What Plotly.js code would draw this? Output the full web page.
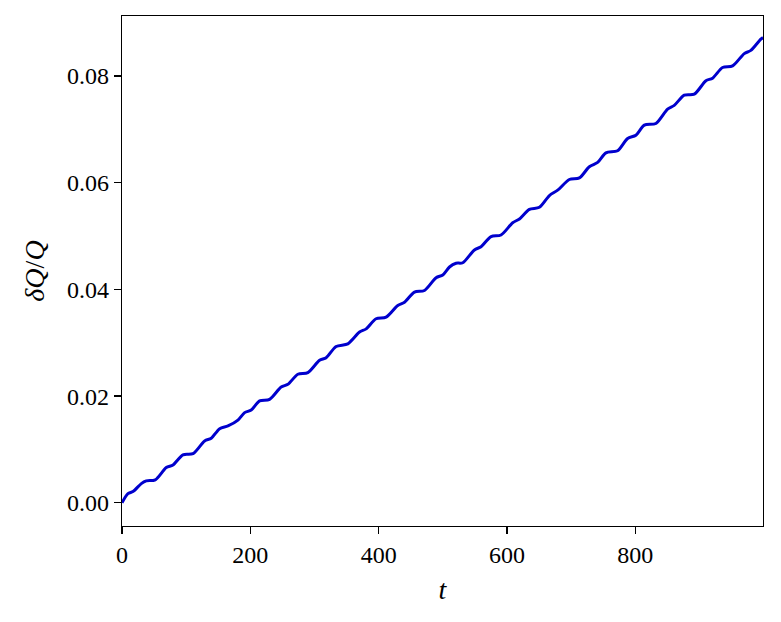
<!DOCTYPE html>
<html>
<head>
<meta charset="utf-8">
<script src="https://cdn.plot.ly/plotly-3.0.1.min.js"></script>
<style>html,body{margin:0;padding:0;background:#fff;}#chart{width:781px;height:622px;}</style>
</head>
<body>
<div id="chart"></div>
<script>
// values
const tValues = [0, 9.3, 17.1, 30.1, 37.8, 51.9, 69.0, 79.4, 95.0, 110.6, 128.8, 139.1, 152.2, 165.1,
  180.7, 191.1, 201.4, 214.5, 230.0, 248.1, 258.5, 274.1, 289.7, 307.9, 318.2, 333.7,
  352.0, 370.2, 380.5, 396.0, 411.6, 429.8, 440.3, 455.8, 471.4, 489.5, 499.9, 510.4,
  520.6, 531.1, 549.3, 559.6, 575.2, 590.7, 608.9, 619.4, 634.9, 650.5, 666.1, 679.0,
  697.2, 712.8, 728.4, 741.3, 754.2, 772.4, 788.0, 800.9, 814.0, 832.1, 850.3,
  860.7, 876.3, 891.9, 910.0, 920.4, 936.0, 951.6, 969.8, 980.1, 995.6, 999.0];
const dQoverQ = [0.0000, 0.0017, 0.0021, 0.0036, 0.0041, 0.0043, 0.0066, 0.0071, 0.0090, 0.0092, 0.0116, 0.0121, 0.0139, 0.0144,
  0.0155, 0.0169, 0.0174, 0.0191, 0.0194, 0.0217, 0.0222, 0.0241, 0.0244, 0.0267, 0.0272, 0.0293,
  0.0298, 0.0320, 0.0326, 0.0345, 0.0348, 0.0370, 0.0376, 0.0395, 0.0398, 0.0422, 0.0427, 0.0442,
  0.0449, 0.0450, 0.0474, 0.0480, 0.0499, 0.0502, 0.0525, 0.0532, 0.0550, 0.0554, 0.0576, 0.0586,
  0.0606, 0.0609, 0.0630, 0.0638, 0.0656, 0.0660, 0.0683, 0.0689, 0.0708, 0.0711, 0.0738,
  0.0745, 0.0764, 0.0766, 0.0791, 0.0796, 0.0816, 0.0819, 0.0842, 0.0848, 0.0869, 0.0872];
const xTicks = [0, 200, 400, 600, 800];
const yTicks = [0.00, 0.02, 0.04, 0.06, 0.08];

const serif = "Liberation Serif";
const trace = {
  x: tValues, y: dQoverQ, type: 'scatter', mode: 'lines',
  line: {color: '#0000CD', width: 3, shape: 'spline', smoothing: 0.8},
  hoverinfo: 'skip'
};
const axisCommon = {
  showgrid: false, zeroline: false, showline: true, mirror: true,
  linecolor: '#000', linewidth: 1.3, ticks: 'outside', ticklen: 7, tickwidth: 1.3,
  tickcolor: '#000', tickfont: {family: serif, size: 24, color: '#000'}
};
const layout = {
  width: 781, height: 622,
  margin: {l: 122, r: 18, t: 16, b: 96},
  paper_bgcolor: '#fff', plot_bgcolor: '#fff',
  showlegend: false,
  xaxis: Object.assign({}, axisCommon, {
    range: [0, 999], tickvals: xTicks, ticktext: xTicks.map(String),
    title: {text: '<i>t</i>', font: {family: serif, size: 28, color: '#000'}, standoff: 12}
  }),
  yaxis: Object.assign({}, axisCommon, {
    range: [-0.00435, 0.09125], tickvals: yTicks, ticktext: yTicks.map(v => v.toFixed(2)),
    title: {text: '<i>δQ</i>/<i>Q</i>', font: {family: serif, size: 28, color: '#000'}, standoff: 14}
  })
};
Plotly.newPlot('chart', [trace], layout, {staticPlot: true, displayModeBar: false});
</script>
</body>
</html>
